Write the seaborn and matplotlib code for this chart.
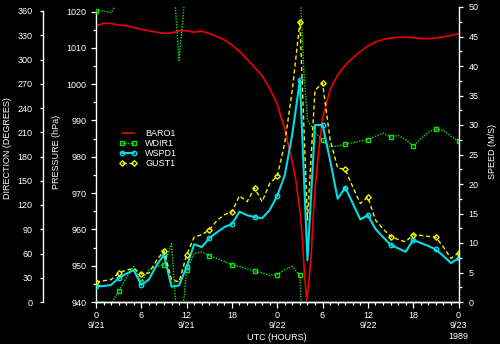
import numpy as np
import pandas as pd
import matplotlib
matplotlib.use("Agg")
import matplotlib.pyplot as plt
import seaborn as sns

# Station record through the passage of Hurricane Hugo, 21-23 Sep 1989.
# Times are hours after 00 UTC 9/21.
baro_hours = [0, 1, 2, 3, 4, 5, 6, 7, 8, 9, 10, 11, 12, 13, 14, 15, 16, 17, 18,
              19, 20, 21, 22, 23, 24, 25, 26, 26.5, 27, 27.3, 27.6, 27.9, 28.2,
              28.5, 28.8, 29, 29.5, 30, 31, 32, 33, 34, 35, 36, 37, 38, 39, 40,
              41, 42, 43, 44, 45, 46, 47, 48]
baro1 = [1016.0, 1016.8, 1016.7, 1016.3, 1016.1, 1015.6, 1015.1, 1014.7, 1014.3,
         1014.0, 1014.1, 1014.7, 1014.7, 1014.3, 1014.6, 1013.9, 1013.1, 1012.2,
         1010.8, 1009.0, 1006.9, 1004.6, 1002.3, 998.8, 994.5, 987.5, 978.5,
         973.0, 965.0, 958.0, 948.0, 940.5, 946.0, 953.0, 965.0, 971.0, 982.0,
         990.5, 998.5, 1002.5, 1005.2, 1007.2, 1009.0, 1010.5, 1011.6, 1012.3,
         1012.7, 1012.9, 1012.9, 1012.8, 1012.6, 1012.5, 1012.7, 1013.0, 1013.4,
         1013.9]

wdir_hours = [0, 1, 2, 3, 4, 5, 6, 7, 8, 9, 10, 11, 12, 13, 14, 15, 16, 17, 18,
              19, 20, 21, 22, 23, 24, 25, 26, 27, 27.5, 28, 29, 30, 31, 32, 33,
              34, 35, 36, 37, 38, 39, 40, 41, 42, 43, 44, 45, 46, 47, 48]
wdir1 = [360, 360, 358, 13, 30, 44, 25, 40, 44, 46, 72, 299, 40, 60, 62, 57, 54,
         50, 46, 44, 41, 38, 36, 33, 34, 40, 44, 33, 290, 225, 210, 200, 192,
         193, 195, 197, 199, 201, 205, 209, 204, 206, 201, 193, 202, 210, 214,
         212, 205, 199]

wind_hours = list(range(49))
wspd1 = [2.7, 2.7, 2.9, 4.0, 4.8, 5.4, 2.9, 3.8, 6.2, 8.0, 2.6, 2.8, 6.0, 9.8,
         9.3, 10.8, 11.8, 12.7, 13.2, 15.3, 14.7, 14.4, 14.2, 15.6, 18.0, 21.5,
         28.5, 37.6, 7.1, 30.0, 30.0, 24.0, 17.5, 19.4, 16.7, 14.0, 14.7, 12.4,
         11.0, 9.7, 9.1, 8.5, 10.5, 10.0, 9.5, 8.9, 7.8, 6.6, 7.4]
gust1 = [3.4, 3.6, 3.8, 4.9, 5.4, 5.7, 4.75, 4.9, 7.0, 8.7, 3.8, 3.4, 8.0, 11.0,
         11.4, 12.2, 13.8, 14.8, 15.3, 18.0, 17.0, 19.3, 17.0, 20.1, 21.3, 27.0,
         36.0, 47.5, 13.9, 35.9, 37.1, 27.5, 22.7, 22.5, 19.5, 16.7, 17.8, 13.9,
         12.4, 11.1, 10.6, 10.2, 11.4, 11.3, 11.1, 11.0, 9.3, 7.4, 8.3]

hour_ticks = [0, 6, 12, 18, 24, 30, 36, 42, 48]
hour_labels = ["0\n9/21", "6", "12\n9/21", "18", "0\n9/22", "6", "12\n9/22",
               "18", "0\n9/23\n1989"]

RED, GREEN, CYAN, YELLOW = "#f00000", "#10e010", "#00dde6", "#f2f200"
FS = 6.5

sns.set_theme(style="ticks", rc={
    "figure.facecolor": "black", "axes.facecolor": "black",
    "axes.edgecolor": "white", "text.color": "white",
    "axes.labelcolor": "white", "xtick.color": "white", "ytick.color": "white",
    "axes.grid": False, "axes.linewidth": 1.0,
})
plt.rcParams["font.family"] = ["Liberation Sans", "DejaVu Sans"]
plt.rcParams["font.size"] = FS

W, H = 500, 344
fig = plt.figure(figsize=(W / 100, H / 100), dpi=100)
x_left, x_right, y_base, y_top = 96, 458.5, 302, 7
ax_p = fig.add_axes([x_left / W, 1 - y_base / H,
                     (x_right - x_left) / W, (y_base - y_top) / H])
ax_d = ax_p.twinx()
ax_s = ax_p.twinx()
axw = x_right - x_left
axh = y_base - y_top

# Upper limits so that the labelled tops (1020 hPa, 360 deg) sit a little
# under the top of the speed scale.
p_top = 1020 + 80 * (11.5 - y_top) / (y_base - 11.5)
d_top = 360 + 360 * (11.0 - y_top) / (y_base - 11.0)

# --- pressure
df_p = pd.DataFrame({"hour": baro_hours, "pres": baro1})
sns.lineplot(data=df_p, x="hour", y="pres", ax=ax_p, color=RED, lw=1.2,
             estimator=None, legend=False, label="BARO1")
baro_line = ax_p.lines[-1]

# --- wind direction, drawn with wrap-around copies so crossings of north
# continue at the other edge of the scale
hrs_d = np.asarray(wdir_hours, float)
dir_cont = np.unwrap(np.asarray(wdir1, float), period=360)
on_mark = np.isclose(np.mod(hrs_d, 3), 0)
wdir_line = None
for k in (-1, 0, 1):
    vals = dir_cont + 360 * k
    inside = (vals > 0.5) & (vals <= d_top)
    if not inside.any():
        continue
    df_d = pd.DataFrame({"hour": hrs_d, "dir": vals})
    sns.lineplot(data=df_d, x="hour", y="dir", ax=ax_d, color=GREEN, lw=1.0,
                 linestyle=(0, (1, 1)), marker="s", markersize=3.0,
                 markerfacecolor="none", markeredgecolor=GREEN,
                 markeredgewidth=1.0, markevery=list(on_mark & inside),
                 estimator=None, legend=False, label="WDIR1")
    if wdir_line is None or k == 0:
        wdir_line = ax_d.lines[-1]

# --- wind speed and gust
hrs_w = np.asarray(wind_hours, float)
mark_w = list(np.isclose(np.mod(hrs_w, 3), 0))
df_w = pd.DataFrame({"hour": hrs_w, "spd": wspd1, "gust": gust1})
sns.lineplot(data=df_w, x="hour", y="spd", ax=ax_s, color=CYAN, lw=1.5,
             marker="o", markersize=3.2, markerfacecolor="none",
             markeredgecolor=CYAN, markeredgewidth=1.0, markevery=mark_w,
             estimator=None, legend=False, label="WSPD1")
wspd_line = ax_s.lines[-1]
sns.lineplot(data=df_w, x="hour", y="gust", ax=ax_s, color=YELLOW, lw=1.0,
             linestyle=(0, (3, 2)), marker="D", markersize=2.8,
             markerfacecolor="none", markeredgecolor=YELLOW,
             markeredgewidth=1.0, markevery=mark_w,
             estimator=None, legend=False, label="GUST1")
gust_line = ax_s.lines[-1]

# --- x axis (hours UTC)
ax_p.set_xlim(0, 48)
ax_p.set_xticks(hour_ticks, hour_labels)
ax_p.set_xticks(range(49), minor=True)
ax_p.tick_params(axis="x", which="major", direction="out", length=4,
                 width=0.9, pad=2.5, labelsize=FS)
ax_p.tick_params(axis="x", which="minor", direction="out", length=2,
                 width=0.9)
ax_p.set_xlabel("UTC (HOURS)", fontsize=FS)
ax_p.xaxis.set_label_coords(0.5, (y_base - 333.5) / axh)

# --- pressure axis
ax_p.set_ylim(940, p_top)
ax_p.set_yticks(np.arange(940, 1021, 10))
ax_p.set_yticks(np.arange(940, 1021, 5), minor=True)
ax_p.tick_params(axis="y", which="major", direction="out", length=3.6,
                 width=0.9, pad=3.4, labelsize=FS)
ax_p.tick_params(axis="y", which="minor", direction="out", length=2.2,
                 width=0.9)
ax_p.spines["left"].set_bounds(940, 1020)
ax_p.spines["top"].set_visible(False)
ax_p.spines["right"].set_visible(False)
ax_p.set_ylabel("PRESSURE (hPa)", fontsize=FS)
ax_p.yaxis.set_label_coords((61 - x_left) / axw, (y_base - 151.7) / axh)

# --- direction axis, offset to the far left
ax_d.set_ylim(0, d_top)
ax_d.yaxis.set_ticks_position("left")
ax_d.yaxis.set_label_position("left")
ax_d.spines["left"].set_position(("axes", (42.7 - x_left) / axw))
ax_d.spines["left"].set_visible(True)
ax_d.spines["left"].set_bounds(0, 360)
for side in ("right", "top", "bottom"):
    ax_d.spines[side].set_visible(False)
ax_d.set_yticks(np.arange(0, 361, 30))
ax_d.tick_params(axis="y", which="major", direction="out", length=2.5,
                 width=0.9, pad=5, labelsize=FS)
ax_d.set_ylabel("DIRECTION (DEGREES)", fontsize=FS)
ax_d.yaxis.set_label_coords((12.3 - x_left) / axw, (y_base - 148.3) / axh)

# --- speed axis on the right
ax_s.set_ylim(0, 50)
ax_s.set_yticks(np.arange(0, 51, 5))
ax_s.set_yticks(np.arange(0, 50.1, 2.5), minor=True)
ax_s.tick_params(axis="y", which="major", direction="out", length=3,
                 width=0.9, pad=4.3, labelsize=FS)
ax_s.tick_params(axis="y", which="minor", direction="out", length=1.8,
                 width=0.9)
for side in ("left", "top"):
    ax_s.spines[side].set_visible(False)
ax_s.spines["bottom"].set_visible(True)
ax_s.set_ylabel("SPEED (M/S)", fontsize=FS)
ax_s.yaxis.set_label_coords((487.7 - x_left) / axw, (y_base - 151.7) / axh)

for a in (ax_d, ax_s):
    a.set_xlabel("")
    a.tick_params(axis="x", which="both", bottom=False, labelbottom=False)

fig.legend([baro_line, wdir_line, wspd_line, gust_line],
           ["BARO1", "WDIR1", "WSPD1", "GUST1"],
           loc="upper left", bbox_to_anchor=(119 / W, 1 - 129.5 / H),
           bbox_transform=fig.transFigure, frameon=False, borderpad=0,
           borderaxespad=0, handlelength=2.0, handletextpad=0.9,
           labelspacing=0.1, numpoints=2, fontsize=FS)

fig.savefig("out.png", dpi=100, facecolor="black")
